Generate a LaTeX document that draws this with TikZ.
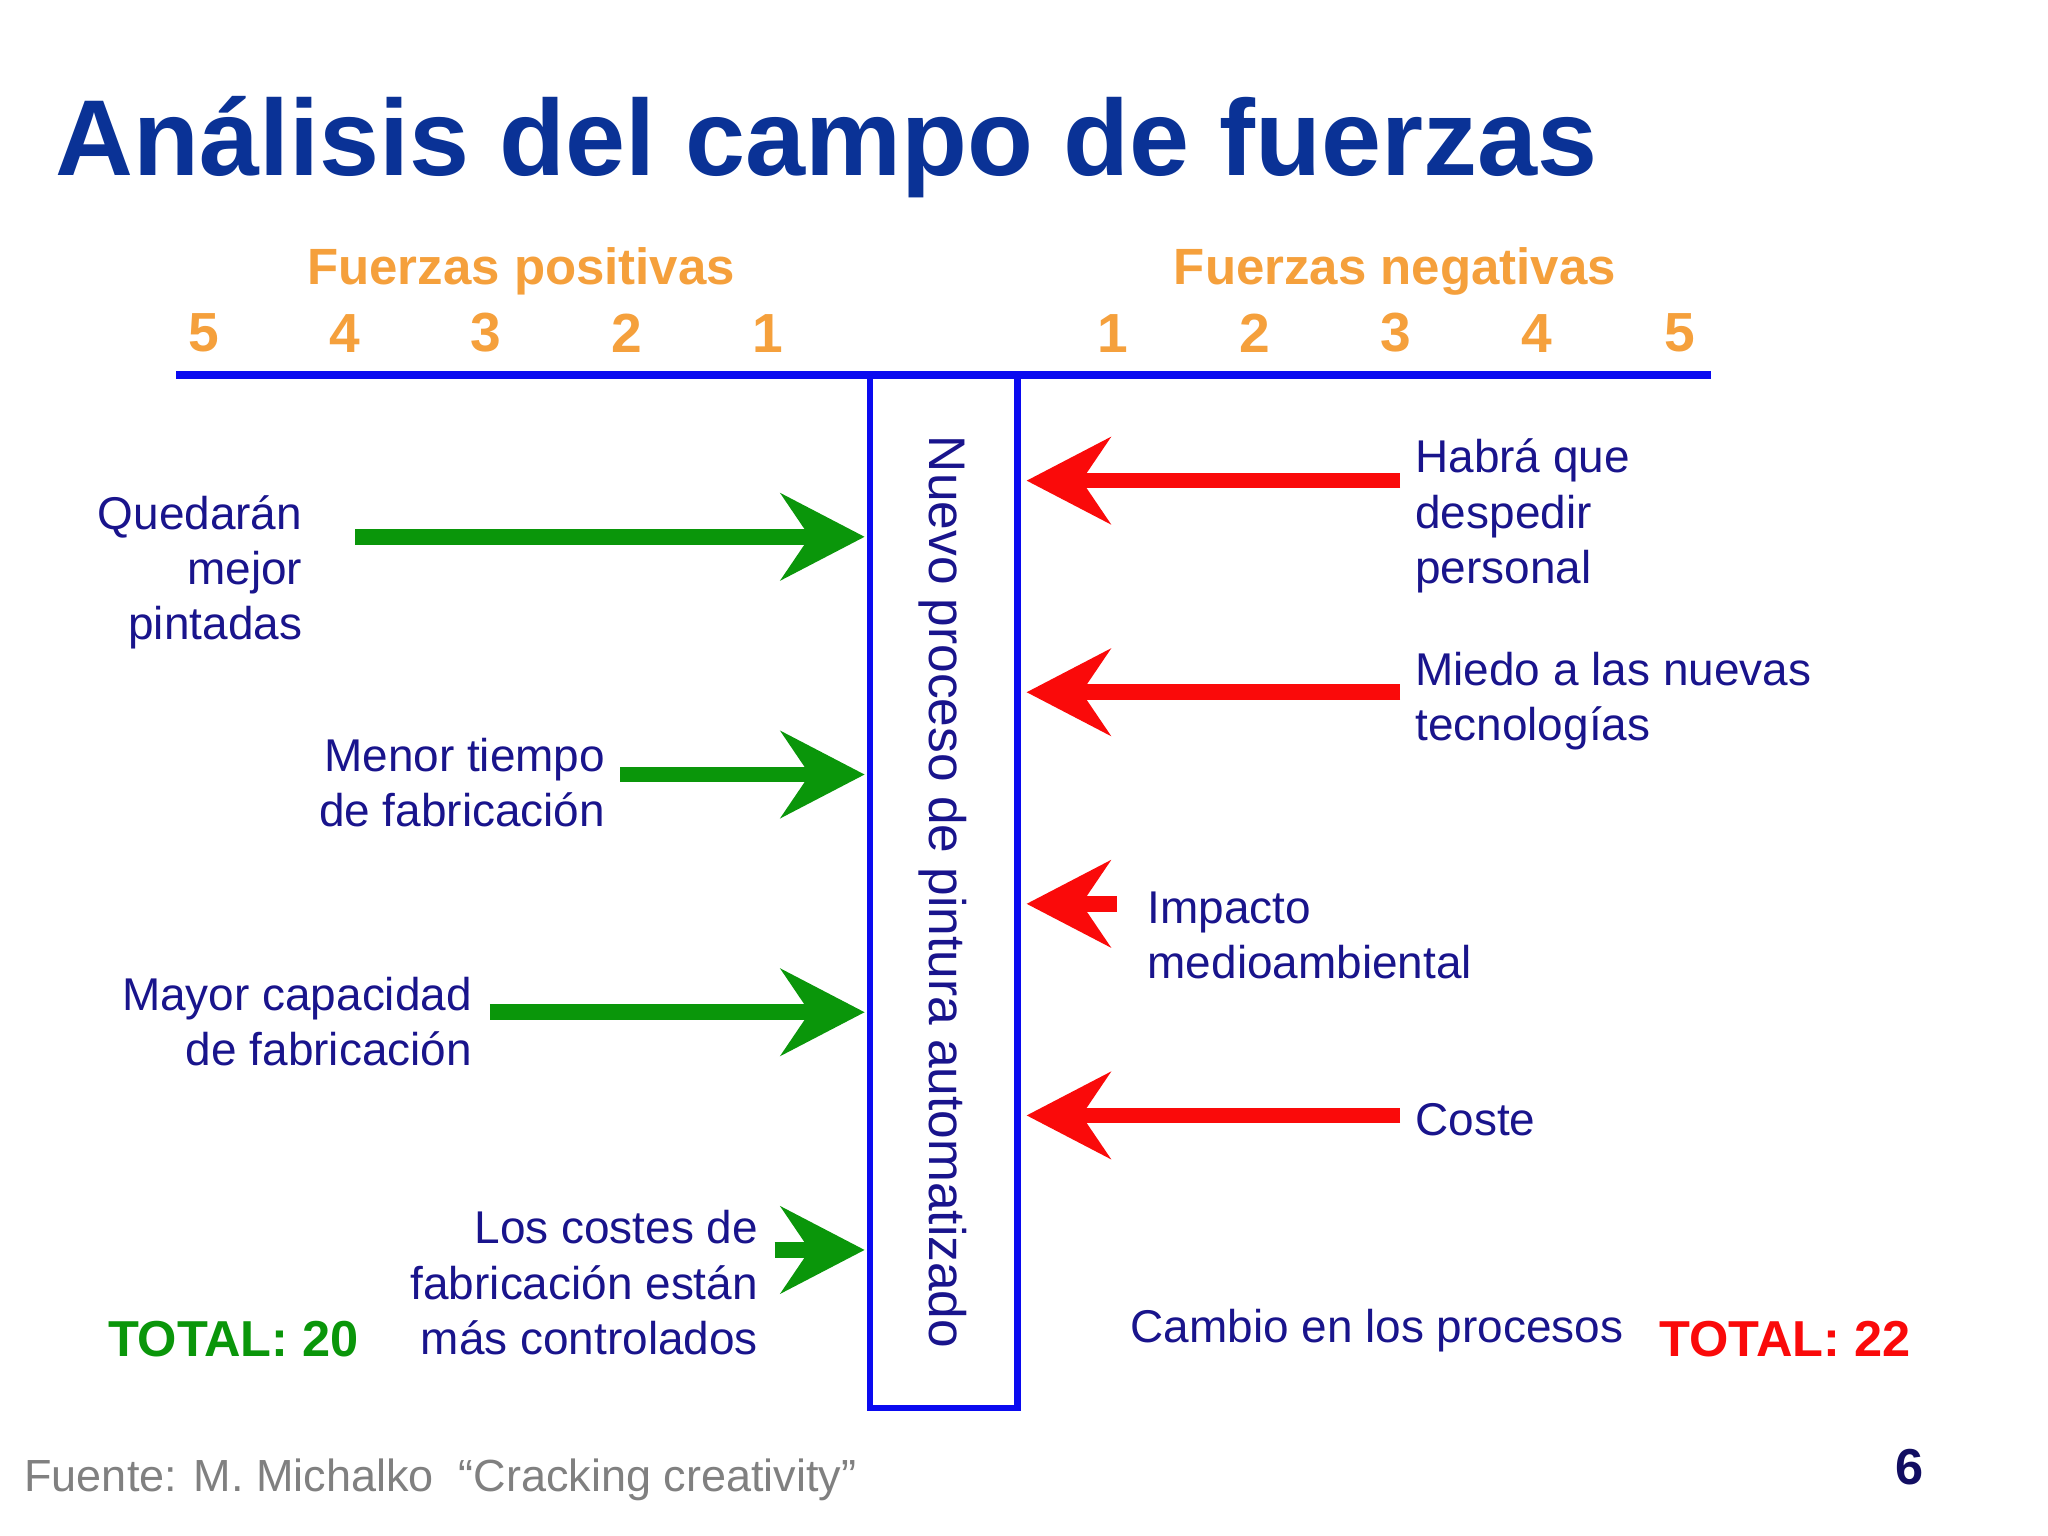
\documentclass[tikz,border=0pt]{standalone}
\usepackage{fontspec}
\setmainfont{Liberation Sans}
\usetikzlibrary{arrows.meta}
\definecolor{ttl}{RGB}{10,50,150}
\definecolor{org}{RGB}{245,160,60}
\definecolor{txt}{RGB}{25,20,140}
\definecolor{grn}{RGB}{10,150,10}
\definecolor{rd}{RGB}{250,10,10}
\definecolor{bl}{RGB}{10,10,240}
\tikzset{
 lbl/.style={text=txt,font=\fontsize{10pt}{12pt}\selectfont,inner sep=0pt},
 num/.style={text=org,font=\bfseries\fontsize{11.1pt}{14pt}\selectfont,inner sep=0pt},
 garrow/.style={grn,line width=0.12cm,-{Stealth[length=0.64cm,width=0.66cm,inset=0.22cm]}},
 rarrow/.style={rd,line width=0.12cm,-{Stealth[length=0.64cm,width=0.66cm,inset=0.22cm]}},
}
\begin{document}
\begin{tikzpicture}[x=0.01cm,y=-0.01cm]
\useasboundingbox[fill=white] (0,0) rectangle (1568,1176);
\node[anchor=west,text=ttl,font=\bfseries\fontsize{23.5pt}{26pt}\selectfont,inner sep=0pt] (title) at (42,113) {Análisis del campo de fuerzas};
\node[num] (hp) at (399,208) {Fuerzas positivas};
\node[num] (hn) at (1068,208) {Fuerzas negativas};
\foreach \x/\n [count=\i] in {156/5,264/4,372/3,480/2,588/1,852/1,961/2,1069/3,1177/4,1286/5}
  \node[num,font=\bfseries\fontsize{12pt}{14pt}\selectfont] (n\i) at (\x,255) {\n};
\draw[bl,line width=0.06cm] (135,287) coordinate (la) -- (1310,287) coordinate (lb);
\draw[bl,line width=0.05cm] (666,287) rectangle (779,1078);
\node[lbl,rotate=-90,font=\fontsize{11.2pt}{14pt}\selectfont] (box) at (722,683) {Nuevo proceso de pintura automatizado};
\foreach \y/\xs [count=\i] in {411/272,593/475,775/375,957/593}{
  \coordinate (gs\i) at (\xs,\y); \coordinate (ge\i) at (662,\y);
  \draw[garrow] (gs\i) -- (ge\i);}
\foreach \y/\xs [count=\i] in {368/1072,530/1072,854/1072}{
  \coordinate (rs\i) at (\xs,\y); \coordinate (re\i) at (786,\y);
  \draw[rarrow] (rs\i) -- (re\i);}
\coordinate (rs4) at (855,692); \coordinate (re4) at (786,692);
\draw[rarrow] (rs4) -- (re4);
\node[lbl,anchor=east,align=right] (t1) at (232,438) {Quedarán\\mejor\\pintadas};
\node[lbl,anchor=east,align=right] (t2) at (464,599) {Menor tiempo\\de fabricación};
\node[lbl,anchor=east,align=right] (t3) at (362,782) {Mayor capacidad\\de fabricación};
\node[lbl,anchor=east,align=right] (t4) at (581,982) {Los costes de\\fabricación están\\más controlados};
\node[lbl,anchor=west,align=left] (t5) at (1083,395) {Habrá que\\despedir\\personal};
\node[lbl,anchor=west,align=left] (t6) at (1083,537) {Miedo a las nuevas\\tecnologías};
\node[lbl,anchor=west,align=left] (t7) at (878,716) {Impacto\\medioambiental};
\node[lbl,anchor=west] (t8) at (1083,857) {Coste};
\node[lbl,anchor=west] (t9) at (865,1019) {Cambio en los procesos};
\node[anchor=west,inner sep=0pt,text=grn,font=\bfseries\fontsize{11pt}{13pt}\selectfont] (tot1) at (82,1025) {TOTAL: 20};
\node[anchor=west,inner sep=0pt,text=rd,font=\bfseries\fontsize{11pt}{13pt}\selectfont] (tot2) at (1270,1025) {TOTAL: 22};
\node[anchor=west,inner sep=0pt,text=gray,font=\fontsize{9.8pt}{12pt}\selectfont] (src) at (18,1133) {Fuente: M. Michalko\ \ “Cracking creativity”};
\node[inner sep=0pt,text=txt!70!black,font=\bfseries\fontsize{11pt}{13pt}\selectfont] (pg) at (1462,1123) {6};
\end{tikzpicture}
\end{document}
